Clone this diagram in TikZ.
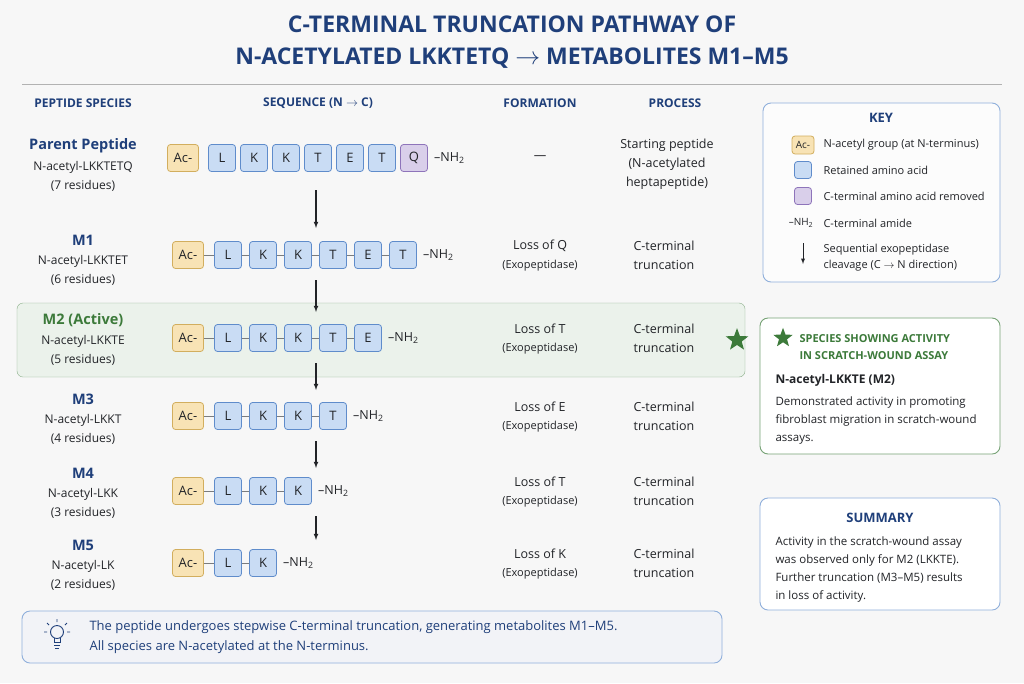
\documentclass[tikz,border=0pt]{standalone}
\usepackage{fontspec}
\setmainfont{Open Sans}
\usetikzlibrary{shapes.geometric,positioning}
\definecolor{navy}{HTML}{1F3F7A}
\definecolor{ink}{HTML}{222428}
\definecolor{resfill}{HTML}{C9DCF4}
\definecolor{resline}{HTML}{5F8CCB}
\definecolor{acfill}{HTML}{F8E3B5}
\definecolor{acline}{HTML}{D2AE5E}
\definecolor{qfill}{HTML}{D9CFEA}
\definecolor{qline}{HTML}{8E74BA}
\definecolor{leaf}{HTML}{3C7A3A}
\tikzset{
  res/.style={draw=resline,line width=0.8pt,fill=resfill,rounded corners=3pt,minimum width=27pt,minimum height=27pt,inner sep=0pt,font=\fontsize{13}{15}\selectfont,text=ink},
  ac/.style={res,draw=acline,fill=acfill,minimum width=31pt},
  cut/.style={res,draw=qline,fill=qfill},
  bond/.style={draw=ink!60,line width=0.7pt},
  amide/.style={right=3pt,font=\fontsize{12.5}{14}\selectfont,text=ink,inner sep=0pt},
  cleave/.style={-latex,line width=1.1pt,ink},
  head/.style={font=\bfseries\fontsize{12}{14}\selectfont,text=navy},
  sp/.style={font=\bfseries\fontsize{14.5}{17}\selectfont},
  small/.style={font=\fontsize{11}{13}\selectfont,text=ink,align=center},
  txt/.style={font=\fontsize{12.5}{19}\selectfont,text=ink,align=center},
  panel/.style={draw=resline!70,fill=white!60!gray!5,rounded corners=8pt,line width=0.9pt},
}
\newcommand{\amide}{--NH\textsubscript{2}}
\begin{document}
\begin{tikzpicture}[x=1pt,y=-1pt]
\fill[gray!6] (0,0) rectangle (1024,683);
\useasboundingbox (0,0) rectangle (1024,683);
% title
\node[font=\bfseries\fontsize{23}{32}\selectfont,text=navy,align=center] (title) at (512,42)
  {C-TERMINAL TRUNCATION PATHWAY OF\\N-ACETYLATED LKKTETQ $\rightarrow$ METABOLITES M1--M5};
\draw[gray!60,line width=0.8pt] (22,84) -- (1002,84);
\node[head] (h1) at (83,103) {PEPTIDE SPECIES};
\node[head] (h2) at (318,103) {SEQUENCE (N $\rightarrow$ C)};
\node[head] (h3) at (540,103) {FORMATION};
\node[head] (h4) at (675,103) {PROCESS};
% highlight band for M2
\draw[leaf!60,fill=leaf!10,rounded corners=6pt] (17,303) rectangle (745,377);
\node[star,star points=5,star point ratio=2.4,fill=leaf,inner sep=3.5pt] (star1) at (737,340) {};
% species column
\foreach \nm/\full/\n/\y/\col in {Parent Peptide/LKKTETQ/7/167/navy,M1/LKKTET/6/261/navy,M2 (Active)/LKKTE/5/341/leaf,M3/LKKT/4/420/navy,M4/LKK/3/494/navy,M5/LK/2/566/navy}
  {
  \node[sp,text=\col] (sp\n) at (83,\y-21) {\nm};
  \node[txt,font=\fontsize{12}{14}\selectfont] (nm\n) at (83,\y) {N-acetyl-\full};
  \node[txt,font=\fontsize{12}{14}\selectfont] (rs\n) at (83,\y+19) {(\n\ residues)};
  }
% parent peptide
\node[ac] (p0) at (183,158) {Ac-};
\foreach \r [count=\i] in {L,K,K,T,E,T}
  \node[res] (p\i) at (190+32*\i,158) {\r};
\node[cut] (p7) at (414,158) {Q};
\node[amide] (pn) [right=6pt of p7] {\amide};
% metabolites
\foreach \row/\y/\seq/\last in {a/255/{L,K,K,T,E,T}/6,b/338/{L,K,K,T,E}/5,c/416/{L,K,K,T}/4,d/491/{L,K,K}/3,e/563/{L,K}/2}
  {
  \node[ac] (\row0) at (188,\y) {Ac-};
  \foreach \r [count=\i] in \seq
    \node[res] (\row\i) at (193+35*\i,\y) {\r};
  \foreach \i [remember=\i as \p (initially 0)] in {1,...,\last}
    \draw[bond] (\row\p) -- (\row\i);
  \node[amide] (\row n) [right=6pt of \row\last] {\amide};
  }
% cleavage arrows
\draw[cleave] (316,190) -- (316,228);
\draw[cleave] (316,280) -- (316,312);
\draw[cleave] (316,363) -- (316,390);
\draw[cleave] (316,441) -- (316,468);
\draw[cleave] (316,516) -- (316,540);
% formation and process
\node[txt] (f0) at (540,158) {---};
\node[txt] (q0) at (667,164) {Starting peptide\\(N-acetylated\\heptapeptide)};
\foreach \aa/\y [count=\k] in {Q/255,T/338,E/416,T/491,K/563}
  {
  \node[txt] (f\k) at (540,\y-9) {Loss of \aa};
  \node[small] (g\k) at (540,\y+11) {(Exopeptidase)};
  \node[txt] (q\k) at (664,\y) {C-terminal\\truncation};
  }
% key
\draw[panel] (763,103) rectangle (1000,282);
\node[head,font=\bfseries\fontsize{13}{15}\selectfont] (key) at (881,118) {KEY};
\node[ac,minimum width=22pt,minimum height=18pt,font=\fontsize{10}{11}\selectfont] (k1) at (803,145) {Ac-};
\node[res,minimum width=17pt,minimum height=17pt] (k2) at (803,170) {};
\node[cut,minimum width=17pt,minimum height=17pt] (k3) at (803,196) {};
\node[small,font=\fontsize{10}{11}\selectfont] (k4) at (801,223) {--NH\textsubscript{2}};
\coordinate (k5a) at (803,243);
\coordinate (k5b) at (803,264);
\draw[cleave,line width=0.9pt] (k5a) -- (k5b);
\foreach \t/\y [count=\k] in {N-acetyl group (at N-terminus)/145,Retained amino acid/170,C-terminal amino acid removed/196,C-terminal amide/223}
  \node[small,anchor=west] (kt\k) at (820,\y) {\t};
\node[small,anchor=west,align=left,font=\fontsize{11}{16}\selectfont] (kt5) at (820,258) {Sequential exopeptidase\\cleavage (C $\rightarrow$ N direction)};
% activity panel
\draw[panel,draw=leaf!70,fill=white] (760,318) rectangle (1000,454);
\node[star,star points=5,star point ratio=2.4,fill=leaf,inner sep=3pt] (star2) at (783,338) {};
\node[font=\bfseries\fontsize{11}{17}\selectfont,text=leaf,align=left,anchor=west] (act) at (796,347)
  {SPECIES SHOWING ACTIVITY\\IN SCRATCH-WOUND ASSAY};
\node[font=\bfseries\fontsize{12}{14}\selectfont,text=ink,anchor=west] (actm) at (772,380) {N-acetyl-LKKTE (M2)};
\node[txt,font=\fontsize{11.5}{18}\selectfont,align=left,anchor=north west] (actt) at (772,393)
  {Demonstrated activity in promoting\\fibroblast migration in scratch-wound\\assays.};
% summary panel
\draw[panel,fill=white] (760,498) rectangle (1000,610);
\node[head,font=\bfseries\fontsize{13}{15}\selectfont] (sum) at (880,518) {SUMMARY};
\node[txt,font=\fontsize{11.5}{18}\selectfont,align=left,anchor=north west] (sumt) at (772,533)
  {Activity in the scratch-wound assay\\was observed only for M2 (LKKTE).\\Further truncation (M3--M5) results\\in loss of activity.};
% note
\draw[panel,fill=navy!6] (22,611) rectangle (722,663);
\coordinate (bulb) at (57,632);
\draw[navy,line width=0.9pt] (bulb) circle[radius=6.5];
\draw[navy,line width=0.9pt] (54,638) -- (54,642) -- (60,642) -- (60,638);
\draw[navy,line width=0.9pt] (54,645) -- (60,645) (55,648) -- (59,648);
\draw[navy,line width=0.8pt] (57,622) -- (57,619) (49,625) -- (47,623) (65,625) -- (67,623) (47,632) -- (44,632) (67,632) -- (70,632);
\node[font=\fontsize{13}{20}\selectfont,text=navy,align=left,anchor=west] (note) at (86,637)
  {The peptide undergoes stepwise C-terminal truncation, generating metabolites M1--M5.\\All species are N-acetylated at the N-terminus.};
\end{tikzpicture}
\end{document}
